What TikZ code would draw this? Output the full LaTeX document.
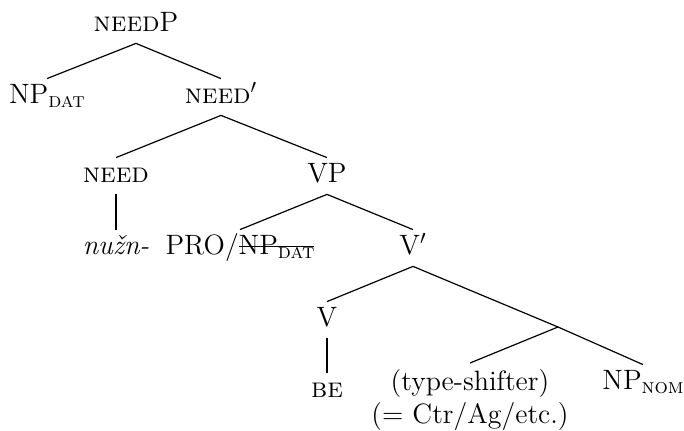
\documentclass[tikz,border=0pt]{standalone}
\usepackage{fontspec}
\tikzset{
    tree-node/.style = {anchor=base, inner xsep=0pt, inner ysep=2.5pt, text height=10pt, text depth=3pt, font=\fontsize{14}{17}\selectfont},
    tree-edge/.style = {line width=0.6pt},
}
\newcommand{\featsub}[1]{\raisebox{-1.8pt}{\fontsize{10.5}{12}\selectfont\textsc{#1}}}
\newsavebox{\strikebox}
\newcommand{\struck}[1]{\sbox{\strikebox}{#1}\rlap{\rule[4pt]{\wd\strikebox}{0.5pt}}\usebox{\strikebox}}

\begin{document}
\begin{tikzpicture}[x=0.5pt, y=-0.5pt]
\useasboundingbox (0,0) rectangle (684,431);
% nodes, level by level
\node [tree-node] (needP) at (136,32) {\textsc{need}P};
\node [tree-node] (NPdat) at (47,104) {NP\featsub{dat}};
\node [tree-node] (needbar) at (221,104) {\textsc{need}$'$};
\node [tree-node] (need) at (116,183) {\textsc{need}};
\node [tree-node] (VP) at (327,183) {VP};
\node [tree-node] (nuzn) at (116,255) {\textit{nužn-}};
\node [tree-node] (PRO) at (240,255) {PRO/\struck{NP\featsub{dat}}};
\node [tree-node] (Vbar) at (413,255) {V$'$};
\node [tree-node] (V) at (327,327) {V};
\coordinate (split) at (558,327);
\node [tree-node] (be) at (327,398) {\textsc{be}};
\node [tree-node, text height=, text depth=, inner ysep=3pt, align=center, anchor=north, font=\fontsize{14}{16.5}\selectfont] (shifter) at (470,363) {(type-shifter)\\(= Ctr/Ag/etc.)};
\node [tree-node] (NPnom) at (643,390) {NP\featsub{nom}};
% branches
\draw [tree-edge] (needP.south) -- (NPdat.north);
\draw [tree-edge] (needP.south) -- (needbar.north);
\draw [tree-edge] (needbar.south) -- (need.north);
\draw [tree-edge] (needbar.south) -- (VP.north);
\draw [tree-edge] (need.south) -- (nuzn.north);
\draw [tree-edge] (VP.south) -- (PRO.north);
\draw [tree-edge] (VP.south) -- (Vbar.north);
\draw [tree-edge] (Vbar.south) -- (V.north);
\draw [tree-edge] (Vbar.south) -- (split);
\draw [tree-edge] (V.south) -- (be.north);
\draw [tree-edge] (split) -- (shifter.north);
\draw [tree-edge] (split) -- (NPnom.north);
\end{tikzpicture}
\end{document}
